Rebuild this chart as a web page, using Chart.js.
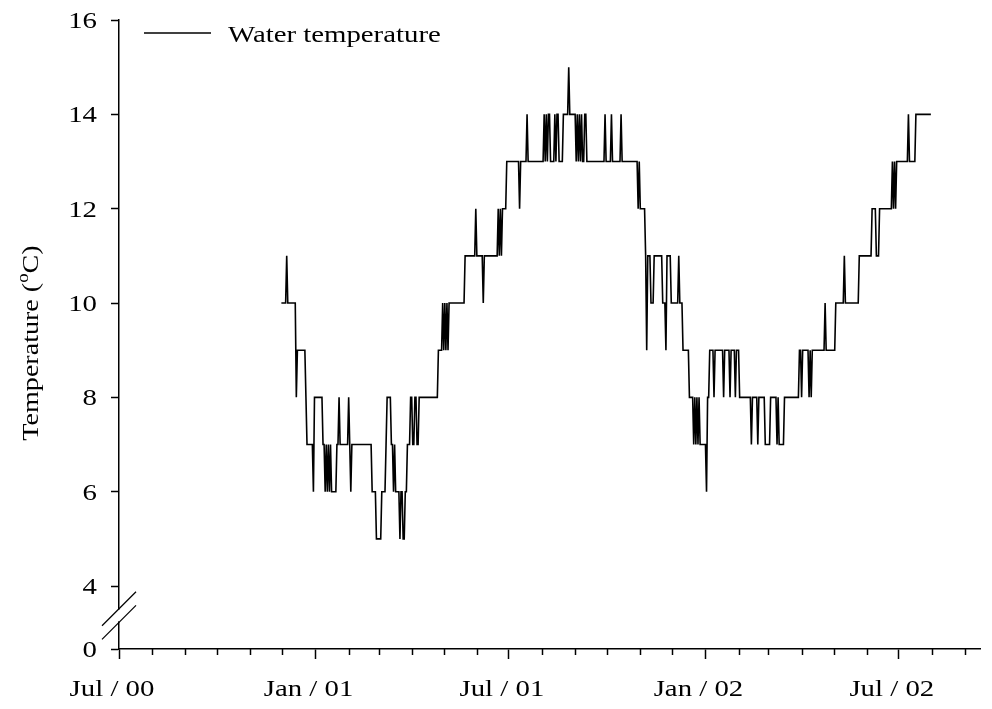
<!DOCTYPE html>
<html lang="en">
<head>
<meta charset="UTF-8">
<title>Water temperature</title>
<script src="https://cdn.jsdelivr.net/npm/chart.js"></script>
<style>
  html, body { margin: 0; padding: 0; background: #fff; }
  #chart { display: block; }
</style>
</head>
<body>
<canvas id="chart" width="992" height="709"></canvas>
<script>
// x values are days counted from 1 Jul 2000
const firstDay = 152;
// daily readings, run-length coded: [temperature (oC), number of days]
const tempRuns = [
  [10,5],[11,1],[10,8],[8,1],[9,8],[8,1],[7,6],[6,1],[8,8],[7,2],
  [6,1],[7,1],[6,1],[7,1],[6,1],[7,1],[6,5],[7,2],[8,1],[7,8],
  [8,1],[7,1],[6,1],[7,19],[6,4],[5,5],[6,4],[7,1],[8,4],[7,2],
  [6,1],[7,1],[6,4],[5,1],[6,2],[5,2],[6,2],[7,3],[8,2],[7,2],
  [8,2],[7,2],[8,18],[9,4],[10,1],[9,1],[10,1],[9,1],[10,1],[9,1],
  [10,15],[11,10],[12,1],[11,6],[10,1],[11,13],[12,1],[11,1],[12,1],[11,1],
  [12,4],[13,12],[12,1],[13,6],[14,1],[13,15],[14,1],[13,1],[14,1],[13,1],
  [14,2],[13,4],[14,1],[13,1],[14,2],[13,4],[14,5],[15,1],[14,6],[13,1],
  [14,1],[13,1],[14,1],[13,1],[14,1],[13,2],[14,2],[13,17],[14,1],[13,5],
  [14,1],[13,8],[14,1],[13,15],[12,1],[13,1],[12,5],[11,1],[9,1],[11,3],
  [10,3],[11,8],[10,3],[9,1],[11,4],[10,7],[11,1],[10,3],[9,6],[8,4],
  [7,1],[8,1],[7,1],[8,1],[7,1],[8,1],[7,6],[6,1],[8,2],[9,4],
  [8,1],[9,8],[8,1],[9,5],[8,1],[9,4],[8,1],[9,3],[8,11],[7,1],
  [8,5],[7,1],[8,6],[7,5],[8,6],[7,1],[8,1],[7,5],[8,14],[9,2],
  [8,1],[9,6],[8,1],[9,1],[8,1],[9,12],[10,1],[9,9],[10,8],[11,1],
  [10,13],[11,12],[12,4],[11,3],[12,12],[13,1],[12,1],[13,1],[12,1],[13,11],
  [14,1],[13,6],[14,15]
];

const seriesLabel = 'Water temperature';
const xLabels = ['Jul / 00', 'Jan / 01', 'Jul / 01', 'Jan / 02', 'Jul / 02'];
const yTicks = [4, 6, 8, 10, 12, 14, 16];
const yTitle = ['Temperature (', 'o', 'C)'];

const xMax = 806;     // mid Sep 2002
const yMin = 2.665;   // bottom of the broken axis, labelled 0
const FONT = 'Liberation Serif, Times New Roman, serif';
const SX = 1.2;       // the original lettering is a bit wide

// month starts from Jul 2000 to Sep 2002
const origin = Date.UTC(2000, 6, 1);
const monthTicks = [];
for (let m = 0; m <= 26; m++) {
  monthTicks.push((Date.UTC(2000, 6 + m, 1) - origin) / 864e5);
}

const points = [];
let day = firstDay;
tempRuns.forEach(([t, n]) => {
  for (let k = 0; k < n; k++) points.push({ x: day++, y: t });
});

// draw text widened along its own direction
function wideText(ctx, text, x, y, align) {
  const w = ctx.measureText(text).width * SX;
  const left = align === 'center' ? x - w / 2 : align === 'right' ? x - w : x;
  ctx.save();
  ctx.translate(left, y);
  ctx.scale(SX, 1);
  ctx.fillText(text, 0, 0);
  ctx.restore();
  return w;
}

const extras = {
  id: 'extras',
  afterDraw(chart) {
    const { ctx, chartArea: a, scales: { x, y } } = chart;
    ctx.save();
    ctx.strokeStyle = '#000';
    ctx.fillStyle = '#000';
    ctx.lineWidth = 1.5;
    ctx.textAlign = 'left';
    ctx.textBaseline = 'alphabetic';

    // minor (monthly) ticks
    monthTicks.forEach((d, i) => {
      if (i % 6 === 0) return;
      const px = Math.round(x.getPixelForValue(d)) + 0.5;
      ctx.beginPath();
      ctx.moveTo(px, a.bottom);
      ctx.lineTo(px, a.bottom + 6);
      ctx.stroke();
    });

    // axis break between 0 and 4
    const yHi = y.getPixelForValue(3.52);
    const yLo = y.getPixelForValue(3.23);
    const ax = a.left;
    ctx.fillStyle = '#fff';
    ctx.fillRect(ax - 3, yHi + 1, 6, yLo - yHi - 2);
    ctx.fillStyle = '#000';
    ctx.lineWidth = 1.3;
    [yHi, yLo].forEach(cy => {
      ctx.beginPath();
      ctx.moveTo(ax - 17, cy + 17);
      ctx.lineTo(ax + 17, cy - 17);
      ctx.stroke();
    });

    ctx.font = '24px ' + FONT;

    // tick labels
    x.ticks.forEach((t, i) => {
      if (i % 6 !== 0) return;
      wideText(ctx, xLabels[i / 6], x.getPixelForValue(t.value) - 7, a.bottom + 47, 'center');
    });
    y.ticks.forEach(t => {
      const label = t.value < 4 ? '0' : String(t.value);
      wideText(ctx, label, a.left - 22, y.getPixelForValue(t.value) + 8, 'right');
    });

    // legend
    ctx.lineWidth = 1.5;
    ctx.beginPath();
    ctx.moveTo(a.left + 25, 33);
    ctx.lineTo(a.left + 92, 33);
    ctx.stroke();
    wideText(ctx, seriesLabel, a.left + 109, 42, 'left');

    // y axis title with superscript o
    const big = '24px ' + FONT, small = '16px ' + FONT;
    ctx.font = big;
    const w1 = ctx.measureText(yTitle[0]).width;
    const w3 = ctx.measureText(yTitle[2]).width;
    ctx.font = small;
    const w2 = ctx.measureText(yTitle[1]).width;
    const total = w1 + w2 + w3;
    ctx.translate(38, 343);
    ctx.rotate(-Math.PI / 2);
    ctx.scale(1.17, 1);
    let tx = -total / 2;
    ctx.font = big;
    ctx.fillText(yTitle[0], tx, 0);
    tx += w1;
    ctx.font = small;
    ctx.fillText(yTitle[1], tx, -10);
    tx += w2;
    ctx.font = big;
    ctx.fillText(yTitle[2], tx, 0);
    ctx.restore();
  }
};

new Chart(document.getElementById('chart'), {
  type: 'line',
  data: {
    datasets: [{
      label: seriesLabel,
      data: points,
      borderColor: '#000',
      borderWidth: 1.6,
      pointRadius: 0,
      fill: false,
      tension: 0
    }]
  },
  options: {
    responsive: false,
    animation: false,
    devicePixelRatio: 1,
    layout: { padding: { left: 0, top: 20, right: 12, bottom: 0 } },
    plugins: { legend: { display: false }, tooltip: { enabled: false } },
    scales: {
      x: {
        type: 'linear',
        min: 0,
        max: xMax,
        afterBuildTicks: s => { s.ticks = monthTicks.map(v => ({ value: v })); },
        afterFit: s => { s.height = 60; },
        ticks: { display: false },
        grid: {
          drawOnChartArea: false,
          tickLength: 10,
          tickWidth: 1.5,
          tickColor: c => (c.index % 6 === 0 ? '#000' : 'rgba(0,0,0,0)')
        },
        border: { color: '#000', width: 1.5 }
      },
      y: {
        type: 'linear',
        min: yMin,
        max: 16,
        afterBuildTicks: s => { s.ticks = [yMin, ...yTicks].map(v => ({ value: v })); },
        afterFit: s => { s.width = 119; },
        ticks: { display: false },
        grid: {
          drawOnChartArea: false,
          tickLength: 8,
          tickWidth: 1.5,
          tickColor: '#000'
        },
        border: { color: '#000', width: 1.5 }
      }
    }
  },
  plugins: [extras]
});
</script>
</body>
</html>
